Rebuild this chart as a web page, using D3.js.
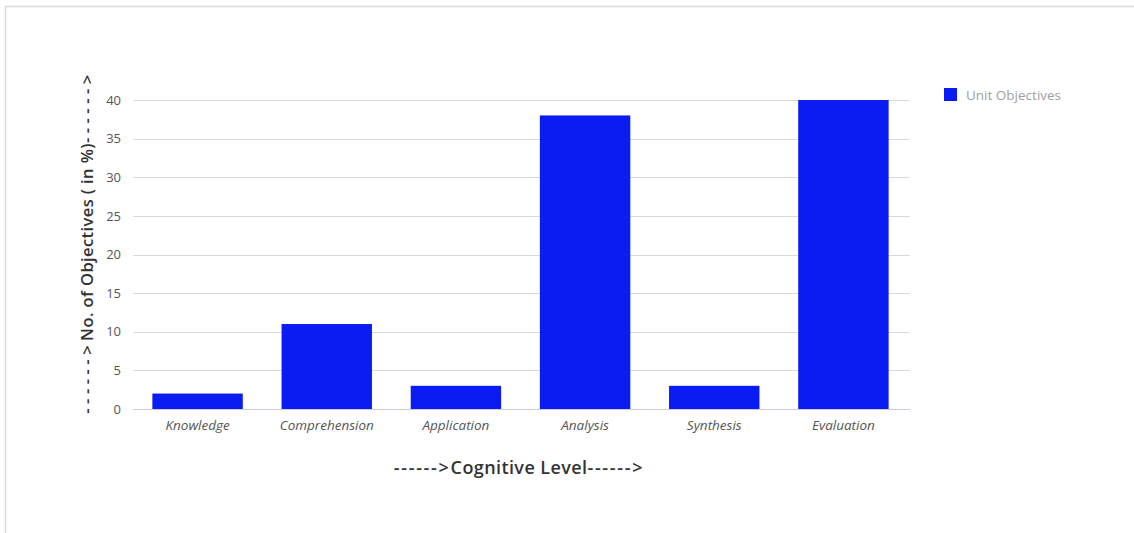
<!DOCTYPE html>
<html>
<head>
<meta charset="utf-8">
<script src="https://cdn.jsdelivr.net/npm/d3@7"></script>
<style>
  html, body { margin: 0; padding: 0; background: #fff; }
  svg { display: block; }
</style>
</head>
<body>
<svg id="chart" width="1134" height="533"></svg>
<script>
const categories = ["Knowledge", "Comprehension", "Application", "Analysis", "Synthesis", "Evaluation"];
const seriesName = "Unit Objectives";
const values = [2, 11, 3, 38, 3, 40];
const yTicks = [0, 5, 10, 15, 20, 25, 30, 35, 40];
const xTitleParts = ["------>", "Cognitive Level", "------>"];
const yTitleParts = ["------>", "No. of Objectives ( in %)", "------>"];

(function () {
const svg = d3.select("#chart");
const W = 1134, H = 533;
const font = "'Open Sans', 'Noto Sans', sans-serif";
const barColor = "#0b1cf2";

// frame lines (top and left)
svg.append("line").attr("x1", 5.5).attr("x2", W).attr("y1", 6.5).attr("y2", 6.5)
  .attr("stroke", "#dcdcdc").attr("stroke-width", 1.5);
svg.append("line").attr("x1", 5.5).attr("x2", 5.5).attr("y1", 6.5).attr("y2", H)
  .attr("stroke", "#dcdcdc").attr("stroke-width", 1.5);

const pLeft = 133, pRight = 908, pTop = 100, pBottom = 409;

const x = d3.scaleBand().domain(categories).range([pLeft, pRight])
  .paddingInner(0.3).paddingOuter(0.15);
const y = d3.scaleLinear().domain([0, 40]).range([pBottom, pTop]);

// gridlines
svg.append("g").selectAll("line").data(yTicks).join("line")
  .attr("x1", pLeft).attr("x2", pRight + 2)
  .attr("y1", d => Math.round(y(d)) + 0.5).attr("y2", d => Math.round(y(d)) + 0.5)
  .attr("stroke", "#d9d9d9").attr("stroke-width", 1);

// y axis labels
const yAxis = svg.append("g").attr("transform", `translate(${pLeft - 8},0)`)
  .call(d3.axisLeft(y).tickValues(yTicks).tickSize(0).tickPadding(4));
yAxis.select(".domain").remove();
yAxis.selectAll("text").attr("font-family", font).attr("font-size", 13).attr("fill", "#555");

// bars
svg.append("g").selectAll("rect").data(values).join("rect")
  .attr("x", (d, i) => x(categories[i]))
  .attr("width", x.bandwidth())
  .attr("y", d => y(d))
  .attr("height", d => y(0) - y(d))
  .attr("fill", barColor);

// x axis
const xAxis = svg.append("g").attr("transform", `translate(0,${pBottom})`)
  .call(d3.axisBottom(x).tickSize(0).tickPadding(11));
xAxis.select(".domain").attr("stroke", "#ccd").attr("d", `M${pLeft},0.5H${pRight + 2}`);
xAxis.selectAll("text").attr("font-family", font).attr("font-size", 13.5)
  .attr("font-style", "italic").attr("fill", "#555");

// axis titles
const xt = svg.append("text").attr("x", 519).attr("y", 474)
  .attr("text-anchor", "middle").attr("font-family", font).attr("font-size", 18)
  .attr("font-weight", 600).attr("fill", "#333");
xt.selectAll("tspan").data(xTitleParts).join("tspan")
  .attr("letter-spacing", (d, i) => i === 1 ? 0.4 : 1.7).text(d => d);

const yt = svg.append("text").attr("transform", `translate(93,242) rotate(-90)`)
  .attr("text-anchor", "middle").attr("font-family", font).attr("font-size", 16.5)
  .attr("font-weight", 600).attr("fill", "#333");
yt.selectAll("tspan").data(yTitleParts).join("tspan")
  .attr("letter-spacing", (d, i) => i === 1 ? 0.4 : 4.5).text(d => d);

// legend
const lg = svg.append("g").attr("transform", "translate(944,88)");
lg.append("rect").attr("width", 13).attr("height", 13).attr("fill", barColor);
lg.append("text").attr("x", 22).attr("y", 11.5).attr("font-family", font)
  .attr("font-size", 13.5).attr("fill", "#a0a0a0").text(seriesName);
})();
</script>
</body>
</html>
